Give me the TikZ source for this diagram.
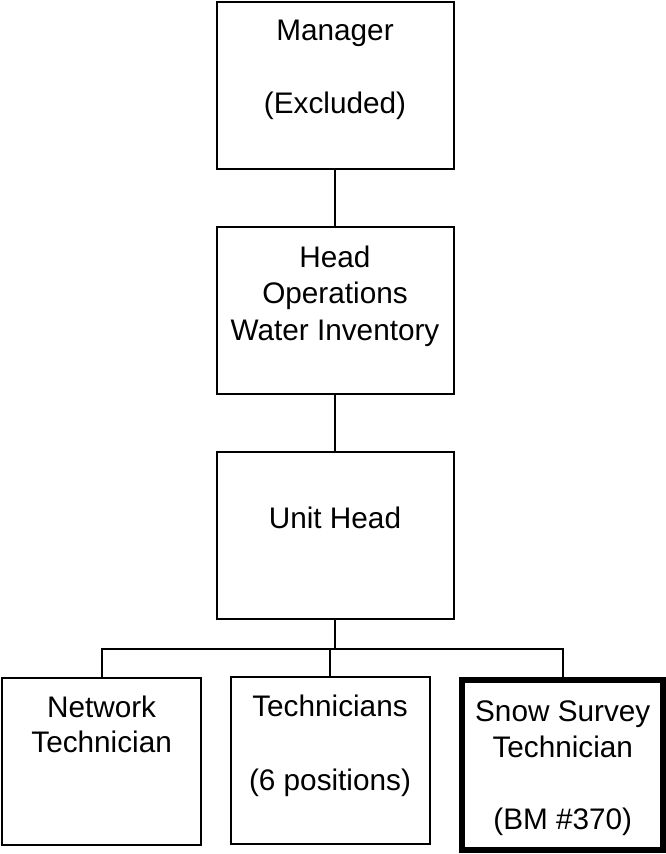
\documentclass[tikz,border=0pt]{standalone}
\usepackage{fontspec}
\setmainfont{Liberation Sans}
\usetikzlibrary{positioning,calc}

\begin{document}
\begin{tikzpicture}[x = 0.75pt, y = -0.75pt, line width = 1.5pt,
    box/.style = {draw, rectangle, inner sep = 0pt, minimum width = 177.75pt, minimum height = 125.25pt},
    kidbox/.style = {box, minimum width = 149.25pt},
    txt/.style = {align = center, anchor = north, inner sep = 0pt, font = \fontsize{22.3pt}{27.4pt}\selectfont}]
    \useasboundingbox (0, 0) rectangle (666, 854);

    % boxes
    \node (mgr) [box] at (335, 85) {};
    \node (head) [box] at (335, 310.8) {};
    \node (unit) [box] at (335, 535.5) {};

    \node (net) [kidbox] at (101.6, 761.3) {};
    \node (tech) [kidbox] at (330, 760.7) {};
    \node (snow) [kidbox, line width = 4.5pt, minimum width = 151.1pt, minimum height = 127.9pt] at (562.75, 765.2) {};

    % texts
    \node (mgrtxt) [txt] at (335, 19) {Manager\\[27.75pt](Excluded)};
    \node (headtxt) [txt] at (335, 244.5) {Head\\Operations\\Water Inventory};
    \node (unittxt) [txt] at (335, 505.8) {Unit Head};
    \node (nettxt) [txt] at (101.6, 695.2) {Network\\[-1pt]Technician};
    \node (techtxt) [txt] at (330, 694.2) {Technicians\\[27.75pt](6 positions)};
    \node (snowtxt) [txt] at (562.75, 700.2) {Snow Survey\\[-1pt]Technician\\[27pt](BM \#370)};

    % lines
    \coordinate (bus) at (335, 649);
    \draw (mgr)  --  (head);
    \draw (head)  --  (unit);
    \draw (unit)  --  (bus);
    \draw (net)  |-  (bus)  -|  (snow);
    \draw (tech)  --  (tech |- bus);

\end{tikzpicture}
\end{document}
